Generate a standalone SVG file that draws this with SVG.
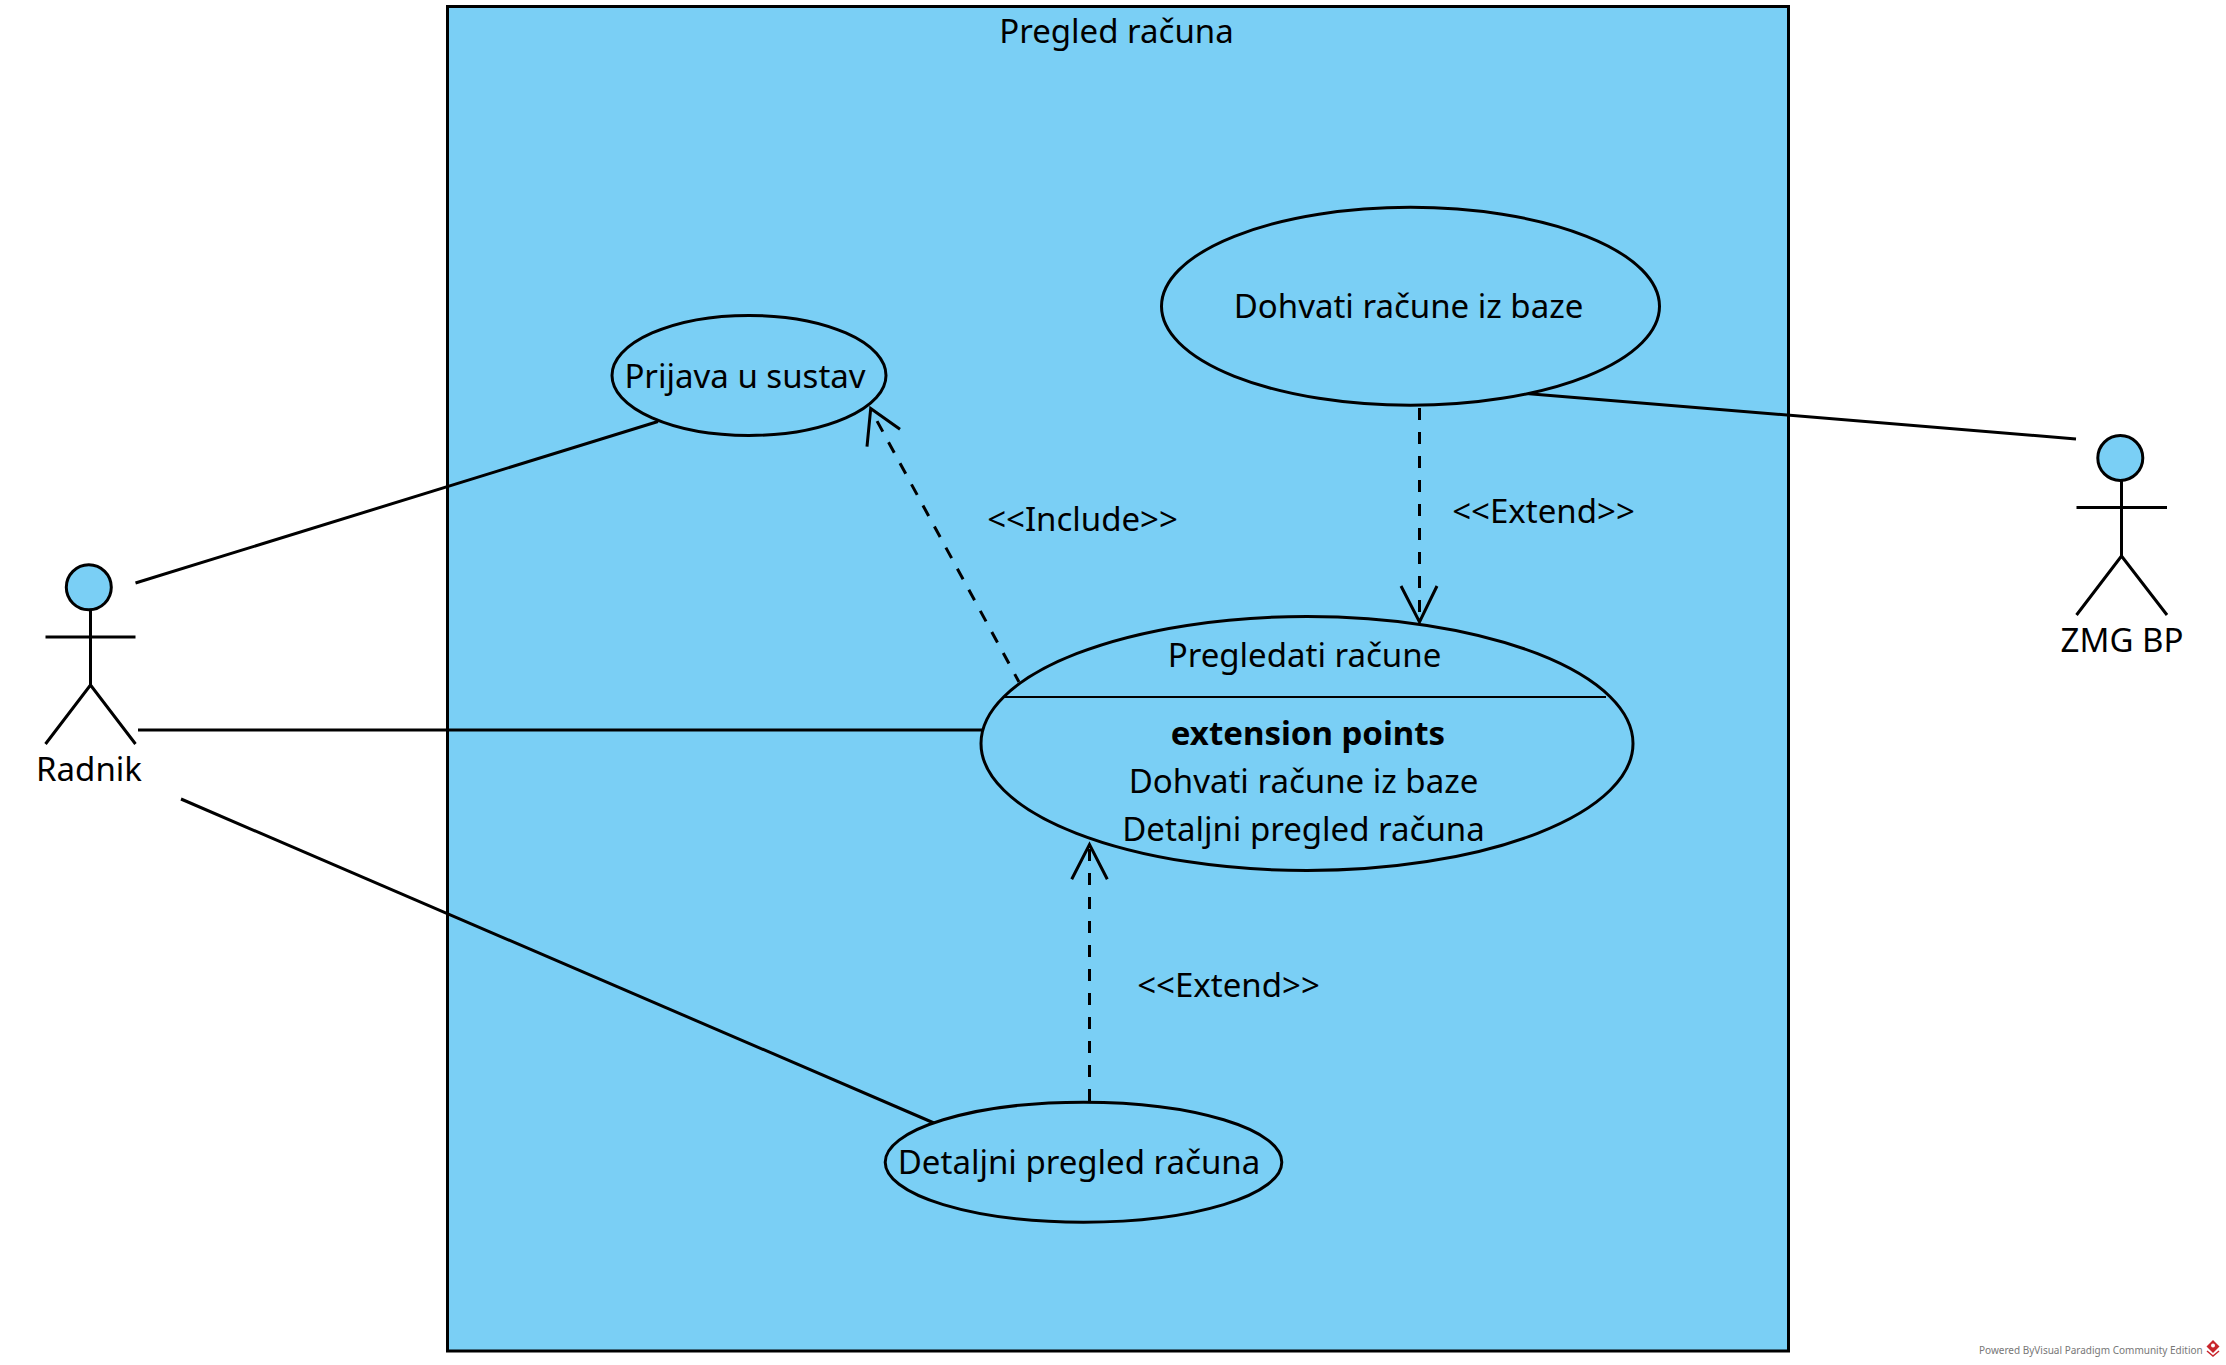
<svg xmlns="http://www.w3.org/2000/svg" width="2226" height="1365" viewBox="0 0 2226 1365">
<style>
text{font-family:"Noto Sans","DejaVu Sans",sans-serif;font-size:33px;fill:#000;text-anchor:middle}
.s{fill:#7acff5;stroke:#000;stroke-width:3}
.l{fill:none;stroke:#000;stroke-width:3}
.t{fill:none;stroke:#000;stroke-width:2}
.d{fill:none;stroke:#000;stroke-width:3;stroke-dasharray:12 12}
.w{font-size:10px;fill:#777;text-anchor:start}
</style>
<rect width="2226" height="1365" fill="#fff"/>
<g id="system"><rect class="s" x="447.500" y="6.500" width="1341" height="1344.500"/><text x="1116.500" y="43">Pregled računa</text></g>
<g id="connectors">
<line class="l" x1="135.500" y1="583" x2="658" y2="421.500"/>
<line class="l" x1="138" y1="730" x2="982" y2="730"/>
<line class="l" x1="181" y1="799" x2="934" y2="1123"/>
<line class="l" x1="1526" y1="393.500" x2="2076" y2="439"/>
<line class="d" stroke-dashoffset="3" x1="1019" y1="682" x2="877" y2="421"/>
<path class="l" d="M867 446.700L870.700 408.500L900 429.300"/>
<line class="d" x1="1419.500" y1="408" x2="1419.500" y2="620"/>
<path class="l" d="M1401 586L1419.500 622L1437 586"/>
<line class="d" x1="1089.500" y1="1101" x2="1089.500" y2="849"/>
<path class="l" d="M1071.700 879.300L1089.500 844.500L1107.300 879.300"/>
</g>
<g id="prijava"><ellipse class="s" cx="749" cy="375.400" rx="137" ry="60"/><text x="745" y="387.500">Prijava u sustav</text></g>
<g id="dohvati"><ellipse class="s" cx="1410.500" cy="306.300" rx="249" ry="99"/><text x="1408.500" y="318">Dohvati račune iz baze</text></g>
<g id="pregledati"><ellipse class="s" cx="1307" cy="743.500" rx="326" ry="127"/><line class="t" x1="1003" y1="697" x2="1606" y2="697"/>
<text x="1304.500" y="667">Pregledati račune</text>
<text x="1308" y="745" font-weight="700">extension points</text>
<text x="1303.500" y="793">Dohvati račune iz baze</text>
<text x="1303.500" y="841">Detaljni pregled računa</text></g>
<g id="detaljni"><ellipse class="s" cx="1083.500" cy="1162.200" rx="198.300" ry="60"/><text x="1079" y="1174">Detaljni pregled računa</text></g>
<g id="radnik"><circle class="s" cx="88.800" cy="587.300" r="22.500"/><path class="l" d="M90.500 610V685M45.500 637H135.500M45.500 744L90.500 685L135.500 744"/><text x="89" y="781">Radnik</text></g>
<g id="zmg"><circle class="s" cx="2120.300" cy="458" r="22.500"/><path class="l" d="M2121.500 480V556M2076.500 507.500H2167M2076.500 615L2121.500 556L2167 615"/><text x="2122" y="652">ZMG BP</text></g>
<g id="labels">
<text x="1082.500" y="531">&lt;&lt;Include&gt;&gt;</text>
<text x="1543.500" y="523">&lt;&lt;Extend&gt;&gt;</text>
<text x="1228.500" y="997">&lt;&lt;Extend&gt;&gt;</text>
</g>
<g id="watermark"><text class="w" x="1979" y="1353.500">Powered ByVisual Paradigm Community Edition</text><path d="M2213 1340l6.500 6.500l-6.500 6.500l-6.500-6.500z" fill="#c8262c"/><circle cx="2213" cy="1345.500" r="2" fill="#fff"/><path d="M2207 1351l6 5l6-5" fill="none" stroke="#c8262c" stroke-width="1.500"/></g>
</svg>
